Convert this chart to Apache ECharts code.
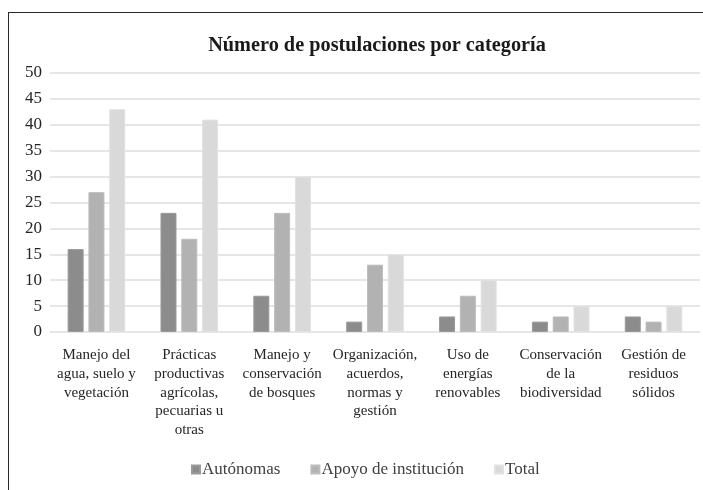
<!DOCTYPE html>
<html><head><meta charset="utf-8">
<script src="https://cdn.jsdelivr.net/npm/echarts@6/dist/echarts.min.js"></script>
<style>
html,body{margin:0;padding:0;background:#fff;}
#frame{position:absolute;left:8px;top:12px;width:700px;height:490px;border-left:1.5px solid #2a2a2a;border-top:1.5px solid #2a2a2a;}
#chart{position:absolute;left:0;top:0;width:703px;height:490px;}
</style></head>
<body>
<div id="frame"></div>
<div id="chart"></div>
<script>
const categories = [
  "Manejo del\nagua, suelo y\nvegetación",
  "Prácticas\nproductivas\nagrícolas,\npecuarias u\notras",
  "Manejo y\nconservación\nde bosques",
  "Organización,\nacuerdos,\nnormas y\ngestión",
  "Uso de\nenergías\nrenovables",
  "Conservación\nde la\nbiodiversidad",
  "Gestión de\nresiduos\nsólidos"
];
const seriesNames = ["Autónomas", "Apoyo de institución", "Total"];
const autonomas = [16, 23, 7, 2, 3, 2, 3];
const apoyo = [27, 18, 23, 13, 7, 3, 2];
const total = [43, 41, 30, 15, 10, 5, 5];
const yTicks = [0, 5, 10, 15, 20, 25, 30, 35, 40, 45, 50];

const colors = ["#8c8c8c", "#b2b2b2", "#d9d9d9"];
const borders = ["#9a9a9a", "#bdbdbd", "#e2e2e2"];
const font = "'Liberation Serif', 'DejaVu Serif', serif";

const chart = echarts.init(document.getElementById('chart'), null, {renderer: 'canvas'});
const values = [autonomas, apoyo, total];
chart.setOption({
  animation: false,
  title: {
    text: "Número de postulaciones por categoría",
    left: 372, top: 31, textAlign: 'center',
    textStyle: {fontFamily: font, fontWeight: 'bold', fontSize: 20.3, color: '#1a1a1a'}
  },
  legend: {
    data: seriesNames,
    bottom: 7, left: 186,
    itemWidth: 8, itemHeight: 8, itemGap: 30,
    icon: 'rect',
    textStyle: {fontFamily: font, fontSize: 17, color: '#404040', padding: [0,0,0,-3]}
  },
  grid: {left: 50, right: 3, top: 73, bottom: 158, containLabel: false},
  xAxis: {
    type: 'category',
    data: categories,
    axisLine: {show: false},
    axisTick: {show: false},
    axisLabel: {fontFamily: font, fontSize: 15, color: '#262626', lineHeight: 18.7, margin: 14, interval: 0}
  },
  yAxis: {
    type: 'value', min: yTicks[0], max: yTicks[yTicks.length-1], interval: 5,
    axisLine: {show: false}, axisTick: {show: false},
    axisLabel: {fontFamily: font, fontSize: 17, color: '#262626', margin: 8},
    splitLine: {lineStyle: {color: '#dedede', width: 1.5}}
  },
  series: seriesNames.map((n, i) => ({
    name: n, type: 'bar', data: values[i],
    barWidth: 16, barGap: '30%',
    itemStyle: {color: colors[i], borderColor: borders[i], borderWidth: 1}
  }))
});
</script>
</body></html>
